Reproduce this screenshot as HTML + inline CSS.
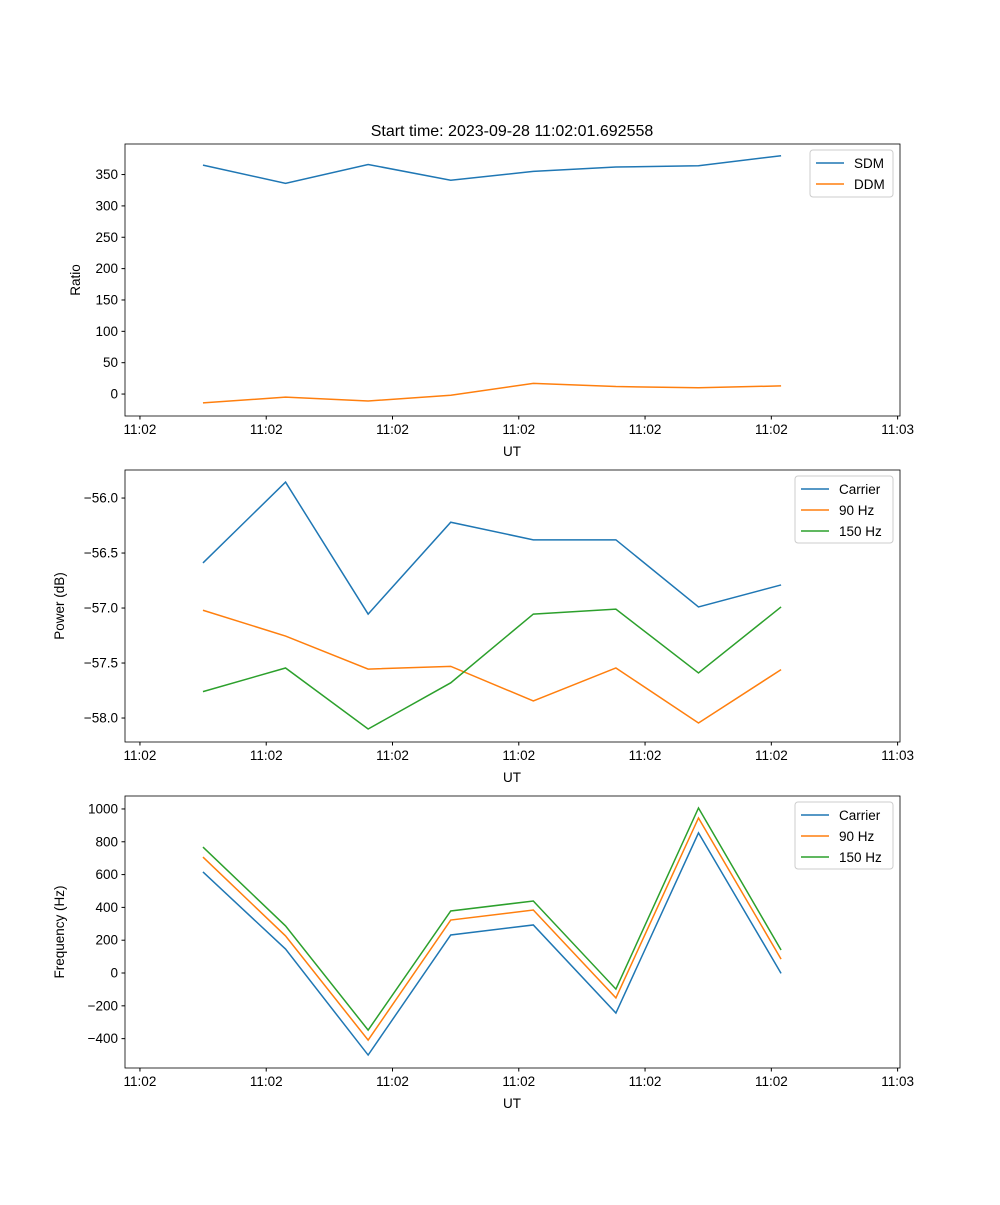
<!DOCTYPE html>
<html><head><meta charset="utf-8"><style>
body{margin:0;background:#fff}
svg{font-family:"Liberation Sans","DejaVu Sans",sans-serif;font-size:13.5px}
</style></head><body>
<svg id="fig" width="1000" height="1200" xmlns="http://www.w3.org/2000/svg">
<rect width="1000" height="1200" fill="#fff"/>
<text x="512" y="136" text-anchor="middle" font-size="16">Start time: 2023-09-28 11:02:01.692558</text>
</svg>
<script>
const xIndex=[0,1,2,3,4,5,6,7];
const xTickLabels=["11:02","11:02","11:02","11:02","11:02","11:02","11:03"];
const xTickIdx=[-0.763,0.766,2.295,3.824,5.353,6.882,8.411];
const sdm=[365,336,366,341,355,362,364,380];
const ddm=[-14,-5,-11,-2,17,12,10,13];
const pCarrier=[-56.59,-55.855,-57.055,-56.22,-56.38,-56.38,-56.99,-56.79];
const p90=[-57.02,-57.255,-57.555,-57.53,-57.845,-57.545,-58.045,-57.56];
const p150=[-57.76,-57.545,-58.1,-57.68,-57.055,-57.01,-57.59,-56.99];
const fCarrier=[616,146,-500,232,293,-244,854,-2];
const f90=[707,226,-409,323,384,-152,945,85];
const f150=[768,287,-348,378,439,-98,1006,140];
const ticks1=[0,50,100,150,200,250,300,350];
const ticks2=[-58.0,-57.5,-57.0,-56.5,-56.0];
const ticks3=[-400,-200,0,200,400,600,800,1000];
const C=["#1f77b4","#ff7f0e","#2ca02c"];
const svg=document.getElementById('fig');
const NS="http://www.w3.org/2000/svg";
function mk(t,a,p){const e=document.createElementNS(NS,t);for(const k in a)e.setAttribute(k,a[k]);(p||svg).appendChild(e);return e;}
const L=125,R=900,X0=-0.944,X1=8.44;
const sx=v=>L+(v-X0)/(X1-X0)*(R-L);
function panel(id,top,ymin,ymax,yt,fmt,ylabel,series,names,legW,legH){
  const bot=top+272;
  const sy=v=>bot-(v-ymin)/(ymax-ymin)*272;
  const g=mk('g',{});
  
  
  series.forEach((s,i)=>{
    const pl=mk('polyline',{points:s.map((v,j)=>sx(xIndex[j])+','+sy(v)).join(' '),fill:'none',stroke:C[i],'stroke-width':1.5},g);
    
    
  });
  mk('rect',{x:L,y:top,width:R-L,height:272,fill:'none',stroke:'#000','stroke-width':0.8},g);
  yt.forEach(v=>{const y=sy(v);mk('line',{x1:L-3.5,x2:L,y1:y,y2:y,stroke:'#000'},g);
    const t=mk('text',{x:L-7,y:y+4.5,'text-anchor':'end'},g);t.textContent=fmt(v).replace('-','\u2212');});
  xTickIdx.forEach((v,i)=>{const x=sx(v);mk('line',{x1:x,x2:x,y1:bot,y2:bot+3.5,stroke:'#000'},g);
    const t=mk('text',{x:x,y:bot+18,'text-anchor':'middle'},g);t.textContent=xTickLabels[i];});
  const xl=mk('text',{x:512,y:bot+40,'text-anchor':'middle'},g);xl.textContent='UT';
  
  const yl=mk('text',{x:0,y:0,'text-anchor':'middle',transform:`translate(${id==='ratio-panel'?80:64},${top+136}) rotate(-90)`},g);yl.textContent=ylabel;
  
  const lx=R-7-legW,ly=top+6;
  const lg=mk('g',{},g);
  
  mk('rect',{x:lx,y:ly,width:legW,height:legH,rx:3,fill:'#fff',stroke:'#ccc'},lg);
  names.forEach((n,i)=>{const y=ly+13+i*21;mk('line',{x1:lx+6,x2:lx+34,y1:y,y2:y,stroke:C[i],'stroke-width':1.5},lg);
    const t=mk('text',{x:lx+44,y:y+5},lg);t.textContent=n;});
}
panel('ratio-panel',144,-35,398.7,ticks1,v=>String(v),'Ratio',[sdm,ddm],['SDM','DDM'],83,47);
panel('power-panel',470,-58.218,-55.745,ticks2,v=>v.toFixed(1),'Power (dB)',[pCarrier,p90,p150],['Carrier','90 Hz','150 Hz'],98,67);
panel('frequency-panel',796,-579,1079,ticks3,v=>String(v),'Frequency (Hz)',[fCarrier,f90,f150],['Carrier','90 Hz','150 Hz'],98,67);
</script>
</body></html>
